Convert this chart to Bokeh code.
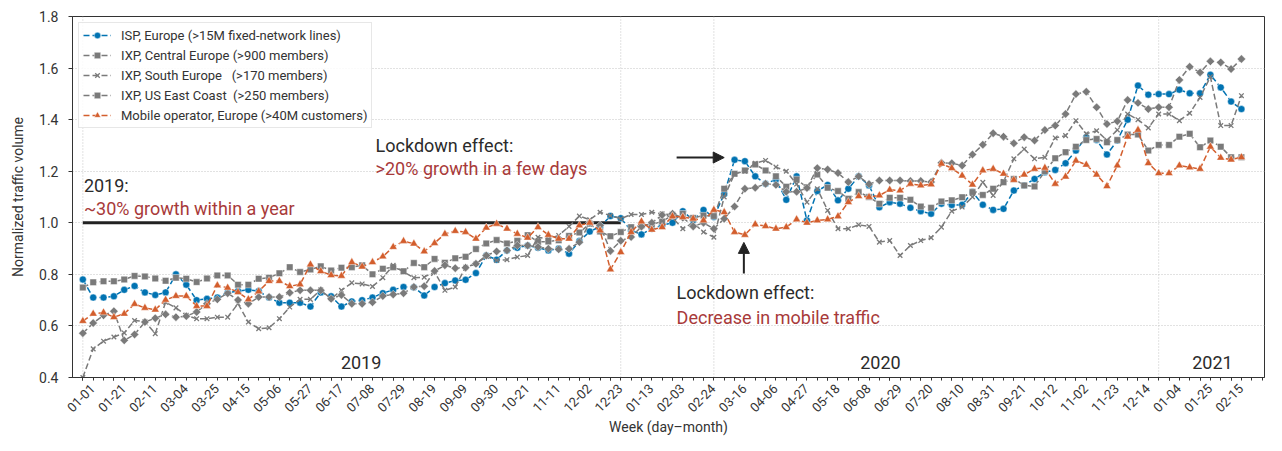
import math
from bokeh.plotting import figure
from bokeh.models import (Range1d, FixedTicker, Label, Arrow, NormalHead, LinearAxis,
                          Legend, LegendItem, PrintfTickFormatter, CustomJSTickFormatter)
from bokeh.embed import file_html
from bokeh.resources import INLINE

# ---------------- data ----------------
week_labels = ["01-01", "01-21", "02-11", "03-04", "03-25", "04-15", "05-06", "05-27",
               "06-17", "07-08", "07-29", "08-19", "09-09", "09-30", "10-21", "11-11",
               "12-02", "12-23", "01-13", "02-03", "02-24", "03-16", "04-06", "04-27",
               "05-18", "06-08", "06-29", "07-20", "08-10", "08-31", "09-21", "10-12",
               "11-02", "11-23", "12-14", "01-04", "01-25", "02-15"]

isp = [0.78, 0.71, 0.71, 0.715, 0.74, 0.755, 0.73, 0.72, 0.73, 0.80,
       0.76, 0.70, 0.705, 0.71, 0.73, 0.735, 0.74, 0.735, 0.71, 0.69,
       0.69, 0.69, 0.675, 0.73, 0.715, 0.675, 0.695, 0.70, 0.71, 0.727,
       0.74, 0.751, 0.75, 0.718, 0.751, 0.766, 0.776, 0.779, 0.805, 0.873,
       0.857, 0.893, 0.903, 0.912, 0.903, 0.893, 0.90, 0.880, 0.929, 0.966,
       0.985, 1.026, 1.018, 0.97, 0.955, 0.977, 0.99, 1.00, 1.045, 1.01,
       1.05, 1.022, 1.112, 1.244, 1.239, 1.18, 1.151, 1.168, 1.089, 1.18,
       1.009, 1.123, 1.147, 1.087, 1.132, 1.18, 1.145, 1.06, 1.080, 1.074,
       1.058, 1.045, 1.035, 1.074, 1.069, 1.07, 1.119, 1.07, 1.05, 1.054,
       1.125, 1.145, 1.17, 1.196, 1.205, 1.231, 1.28, 1.332, 1.321, 1.265,
       1.319, 1.40, 1.532, 1.497, 1.499, 1.499, 1.516, 1.502, 1.502, 1.574,
       1.525, 1.47, 1.441]

ixp_central = [0.749, 0.769, 0.773, 0.773, 0.780, 0.794, 0.792, 0.784, 0.775, 0.787,
               0.783, 0.770, 0.784, 0.796, 0.796, 0.760, 0.760, 0.783, 0.787, 0.804,
               0.828, 0.809, 0.819, 0.831, 0.815, 0.826, 0.828, 0.835, 0.80, 0.822,
               0.828, 0.812, 0.844, 0.828, 0.860, 0.845, 0.862, 0.868, 0.898, 0.920,
               0.933, 0.920, 0.930, 0.952, 0.926, 0.927, 0.932, 0.949, 0.962, 0.996,
               0.966, 0.948, 0.964, 0.983, 0.990, 0.994, 1.005, 1.03, 1.035, 1.019,
               1.028, 1.026, 1.132, 1.190, 1.203, 1.226, 1.203, 1.18, 1.14, 1.168,
               1.138, 1.187, 1.136, 1.123, 1.093, 1.119, 1.10, 1.074, 1.097, 1.097,
               1.089, 1.063, 1.058, 1.083, 1.087, 1.099, 1.119, 1.108, 1.132, 1.157,
               1.17, 1.145, 1.141, 1.2, 1.25, 1.274, 1.295, 1.321, 1.325, 1.312,
               1.321, 1.342, 1.342, 1.28, 1.302, 1.302, 1.334, 1.345, 1.293, 1.319,
               1.295, 1.254, 1.254]

ixp_south = [0.40, 0.511, 0.541, 0.557, 0.573, 0.621, 0.617, 0.570, 0.692, 0.670,
             0.641, 0.628, 0.628, 0.634, 0.634, 0.686, 0.615, 0.589, 0.593, 0.628,
             0.673, 0.703, 0.703, 0.740, 0.705, 0.738, 0.767, 0.763, 0.753, 0.787,
             0.835, 0.81, 0.787, 0.789, 0.81, 0.738, 0.751, 0.828, 0.841, 0.869,
             0.854, 0.857, 0.867, 0.873, 0.944, 0.938, 0.951, 0.986, 1.026, 1.012,
             1.041, 1.028, 1.016, 1.032, 1.032, 1.041, 1.035, 1.02, 0.977, 1.0,
             0.964, 0.944, 1.10, 1.19, 1.20, 1.231, 1.242, 1.216, 1.2, 1.15,
             1.08, 1.132, 1.048, 0.977, 0.977, 0.992, 0.986, 0.925, 0.931, 0.873,
             0.912, 0.931, 0.942, 0.983, 1.045, 1.061, 1.10, 1.157, 1.106, 1.16,
             1.248, 1.286, 1.248, 1.254, 1.329, 1.338, 1.396, 1.345, 1.357, 1.32,
             1.36, 1.422, 1.40, 1.368, 1.422, 1.422, 1.396, 1.425, 1.486, 1.566,
             1.377, 1.377, 1.493]

ixp_useast = [0.572, 0.611, 0.641, 0.657, 0.544, 0.567, 0.615, 0.630, 0.645, 0.634,
              0.638, 0.654, 0.686, 0.703, 0.727, 0.701, 0.686, 0.712, 0.712, 0.712,
              0.729, 0.738, 0.738, 0.738, 0.705, 0.72, 0.686, 0.686, 0.692, 0.716,
              0.722, 0.727, 0.751, 0.754, 0.813, 0.835, 0.824, 0.826, 0.841, 0.873,
              0.889, 0.893, 0.912, 0.912, 0.906, 0.899, 0.897, 0.899, 0.925, 1.0,
              0.99, 0.891, 0.93, 0.945, 0.985, 1.00, 1.03, 1.035, 1.02, 0.986,
              1.0, 0.977, 1.016, 1.063, 1.132, 1.136, 1.151, 1.147, 1.12, 1.12,
              1.135, 1.212, 1.207, 1.193, 1.158, 1.18, 1.15, 1.164, 1.164, 1.164,
              1.162, 1.162, 1.158, 1.233, 1.231, 1.222, 1.265, 1.303, 1.347, 1.334,
              1.308, 1.332, 1.319, 1.36, 1.377, 1.422, 1.499, 1.508, 1.448, 1.383,
              1.394, 1.476, 1.465, 1.441, 1.448, 1.448, 1.554, 1.605, 1.583, 1.626,
              1.622, 1.596, 1.635]

mobile = [0.619, 0.647, 0.652, 0.634, 0.647, 0.685, 0.670, 0.663, 0.701, 0.716,
          0.716, 0.677, 0.677, 0.757, 0.748, 0.731, 0.703, 0.734, 0.774, 0.774,
          0.754, 0.761, 0.838, 0.812, 0.797, 0.794, 0.847, 0.83, 0.847, 0.869,
          0.906, 0.929, 0.919, 0.889, 0.921, 0.957, 0.968, 0.964, 0.938, 0.981,
          0.996, 0.977, 0.957, 0.942, 0.983, 0.953, 0.938, 0.938, 0.990, 1.0,
          0.970, 0.819, 0.886, 0.964, 1.005, 0.973, 0.983, 1.025, 1.022, 1.016,
          1.009, 1.050, 1.041, 0.964, 0.953, 0.994, 0.987, 0.977, 0.983, 1.013,
          1.0, 1.009, 1.013, 1.025, 1.080, 1.103, 1.10, 1.106, 1.128, 1.125,
          1.151, 1.145, 1.149, 1.229, 1.212, 1.183, 1.148, 1.203, 1.209, 1.19,
          1.166, 1.187, 1.209, 1.213, 1.151, 1.179, 1.241, 1.225, 1.187, 1.142,
          1.222, 1.334, 1.36, 1.231, 1.192, 1.192, 1.222, 1.215, 1.209, 1.295,
          1.252, 1.245, 1.254]

weeks = list(range(len(isp)))
label_weeks = list(range(0, 3 * len(week_labels), 3))
marker_weeks = [0, 52, 61, 104]     # 2019, 2020, lockdown, 2021
y_ticks = [0.4, 0.6, 0.8, 1.0, 1.2, 1.4, 1.6, 1.8]

series_labels = ["ISP, Europe (>15M fixed-network lines)",
                 "IXP, Central Europe (>900 members)",
                 "IXP, South Europe\u00a0\u00a0 (>170 members)",
                 "IXP, US East Coast\u00a0 (>250 members)",
                 "Mobile operator, Europe (>40M customers)"]

# ---------------- style ----------------
FONT = "Roboto"
BLUE = "#0173b2"
GRAY = "#7a7a7a"
ORANGE = "#d35e2d"
RED_TXT = "#a83a3a"
DARK = "#2b2b2b"
AX = "#333333"
GRID = "#c4c4c4"

X0, X1 = -1, 114.23
Y0, Y1 = 0.4, 1.8
LABEL_SHIFT = 0.95   # rotated week labels sit centred under their tick, as in the original

p = figure(frame_width=1192, frame_height=361, x_range=Range1d(X0, X1), y_range=Range1d(Y0, Y1),
           output_backend="svg", toolbar_location=None,
           min_border_left=72, min_border_right=2, min_border_top=16, min_border_bottom=58)
p.background_fill_color = "white"
p.border_fill_color = "white"
p.outline_line_color = AX
p.outline_line_width = 1

# grid
p.xgrid.visible = False
p.ygrid.ticker = FixedTicker(ticks=y_ticks)
p.ygrid.grid_line_color = GRID
p.ygrid.grid_line_dash = "1 2"
p.ygrid.grid_line_width = 1

# dotted vertical markers (drawn first, behind the data)
p.segment(x0=marker_weeks, y0=[Y0] * len(marker_weeks), x1=marker_weeks, y1=[Y1] * len(marker_weeks),
          line_color=GRID, line_dash="1 2", line_width=1)

# main x axis: weekly tick marks only
xa = p.xaxis[0]
xa.ticker = FixedTicker(ticks=label_weeks, minor_ticks=list(range(0, 115)))
xa.formatter = CustomJSTickFormatter(code="return ''")
xa.major_label_text_font_size = "0px"
xa.major_label_standoff = 0
xa.axis_line_color = AX
xa.major_tick_line_color = AX
xa.minor_tick_line_color = AX
xa.major_tick_in = 0
xa.minor_tick_in = 0
xa.major_tick_out = 3
xa.minor_tick_out = 3

# second x axis carrying the rotated week labels
p.extra_x_ranges = {"weeklab": Range1d(X0 - LABEL_SHIFT, X1 - LABEL_SHIFT)}
la = LinearAxis(x_range_name="weeklab", ticker=FixedTicker(ticks=label_weeks),
                major_label_overrides={w: lab for w, lab in zip(label_weeks, week_labels)},
                major_label_orientation=math.pi / 4, axis_line_color=None,
                major_tick_line_color=None, minor_tick_line_color=None,
                major_tick_out=0, major_tick_in=0, minor_tick_out=0, minor_tick_in=0,
                major_label_standoff=6, major_label_text_font=FONT,
                major_label_text_font_size="13px", major_label_text_color=AX,
                axis_label="Week (day\u2013month)", axis_label_text_font=FONT,
                axis_label_text_font_style="normal", axis_label_text_color=AX,
                axis_label_text_font_size="14px", axis_label_standoff=0)
p.add_layout(la, "below")

# y axis
ya = p.yaxis[0]
ya.ticker = FixedTicker(ticks=y_ticks)
ya.formatter = PrintfTickFormatter(format="%.1f")
ya.axis_line_color = AX
ya.major_tick_line_color = AX
ya.minor_tick_line_color = None
ya.major_tick_in = 0
ya.major_tick_out = 4
ya.major_label_text_font = FONT
ya.major_label_text_color = AX
ya.major_label_text_font_size = "14px"
ya.major_label_standoff = 10
ya.axis_label = "Normalized traffic volume"
ya.axis_label_text_font = FONT
ya.axis_label_text_font_style = "normal"
ya.axis_label_text_color = AX
ya.axis_label_text_font_size = "14px"
ya.axis_label_standoff = 10

# reference line at 1.0 through 2019
p.segment(x0=[weeks[marker_weeks[0]]], y0=[1.0], x1=[weeks[marker_weeks[1]]], y1=[1.0],
          line_color="#222222", line_width=3)

# series
dash = "6 3"
specs = [
    (isp, BLUE, "circle", 7, 0),
    (ixp_central, GRAY, "square", 6.5, 0),
    (ixp_south, GRAY, "x", 6.5, 0),
    (ixp_useast, GRAY, "square", 6, math.pi / 4),
    (mobile, ORANGE, "triangle", 8, 0),
]
items = []
for (vals, col, mk, sz, ang), lab in zip(specs, series_labels):
    lr = p.line(weeks, vals, line_color=col, line_width=1.5, line_dash=dash)
    if mk == "x":
        sr = p.scatter(weeks, vals, marker="x", size=sz, line_color=col, line_width=1.3)
    else:
        sr = p.scatter(weeks, vals, marker=mk, size=sz, angle=ang, fill_color=col,
                       line_color="white", line_alpha=0.55, line_width=0.8)
    items.append(LegendItem(label=lab, renderers=[lr, sr]))

legend = Legend(items=items, location="top_left", margin=6, padding=4, spacing=4,
                label_height=16, glyph_height=16, glyph_width=28, label_standoff=10,
                label_text_font=FONT, label_text_font_size="13px",
                label_text_color=AX, border_line_color="#d0d0d0",
                border_line_width=1, background_fill_alpha=0.85)
p.add_layout(legend)

# annotations
def txt(x, y, s, color=DARK, size="18px", align="left"):
    p.add_layout(Label(x=x, y=y, text=s, text_font=FONT, text_font_size=size,
                       text_color=color, text_align=align, text_baseline="middle"))

txt(0.1, 1.145, "2019:")
txt(0.1, 1.057, "~30% growth within a year", RED_TXT)
txt(28.3, 1.298, "Lockdown effect:")
txt(28.3, 1.209, ">20% growth in a few days", RED_TXT)
txt(57.4, 0.731, "Lockdown effect:")
txt(57.4, 0.631, "Decrease in mobile traffic", RED_TXT)
txt(26.9, 0.460, "2019", align="center")
txt(77.1, 0.460, "2020", align="center")
txt(109.2, 0.460, "2021", align="center")

p.add_layout(Arrow(end=NormalHead(size=11, fill_color="#222222", line_color="#222222"),
                   x_start=57.4, y_start=1.253, x_end=62.0, y_end=1.253,
                   line_color="#222222", line_width=2))
p.add_layout(Arrow(end=NormalHead(size=11, fill_color="#222222", line_color="#222222"),
                   x_start=63.9, y_start=0.803, x_end=63.9, y_end=0.924,
                   line_color="#222222", line_width=2))

open("out.html", "w").write(file_html(p, INLINE))
